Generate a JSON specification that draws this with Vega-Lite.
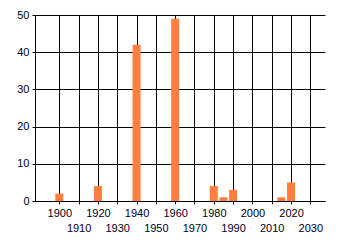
{
  "$schema": "https://vega.github.io/schema/vega-lite/v6.json",
  "width": 290,
  "height": 186,
  "autosize": {"type": "none"},
  "padding": {"left": 35, "top": 15, "right": 15, "bottom": 44},
  "background": "white",
  "config": {
    "view": {"stroke": null},
    "axis": {
      "labelFont": "Liberation Sans",
      "labelFontSize": 11,
      "labelColor": "#000022",
      "gridColor": "black",
      "gridOpacity": 1,
      "gridWidth": 1,
      "domainColor": "black",
      "domainWidth": 1,
      "tickColor": "black",
      "tickSize": 3,
      "title": null
    }
  },
  "data": {
    "values": [
      {"year": 1900, "count": 2},
      {"year": 1920, "count": 4},
      {"year": 1940, "count": 42},
      {"year": 1960, "count": 49},
      {"year": 1980, "count": 4},
      {"year": 1985, "count": 1},
      {"year": 1990, "count": 3},
      {"year": 2015, "count": 1},
      {"year": 2020, "count": 5}
    ]
  },
  "mark": {"type": "bar", "color": "#ff7f3f", "size": 8},
  "encoding": {
    "x": {
      "field": "year",
      "type": "quantitative",
      "scale": {"domain": [1890, 2035], "nice": false, "zero": false},
      "axis": {
        "values": [1900, 1910, 1920, 1930, 1940, 1950, 1960, 1970, 1980, 1990, 2000, 2010, 2020, 2030],
        "format": "d",
        "labelPadding": 3,
        "labelFlush": false,
        "labelOverlap": false,
        "labelLineHeight": 15,
        "labelExpr": "datum.value % 20 == 0 ? datum.label : ['', datum.label]"
      }
    },
    "y": {
      "field": "count",
      "type": "quantitative",
      "scale": {"domain": [0, 50], "nice": false},
      "axis": {
        "values": [0, 10, 20, 30, 40, 50],
        "labelPadding": 3,
        "labelFlush": false
      }
    }
  }
}
